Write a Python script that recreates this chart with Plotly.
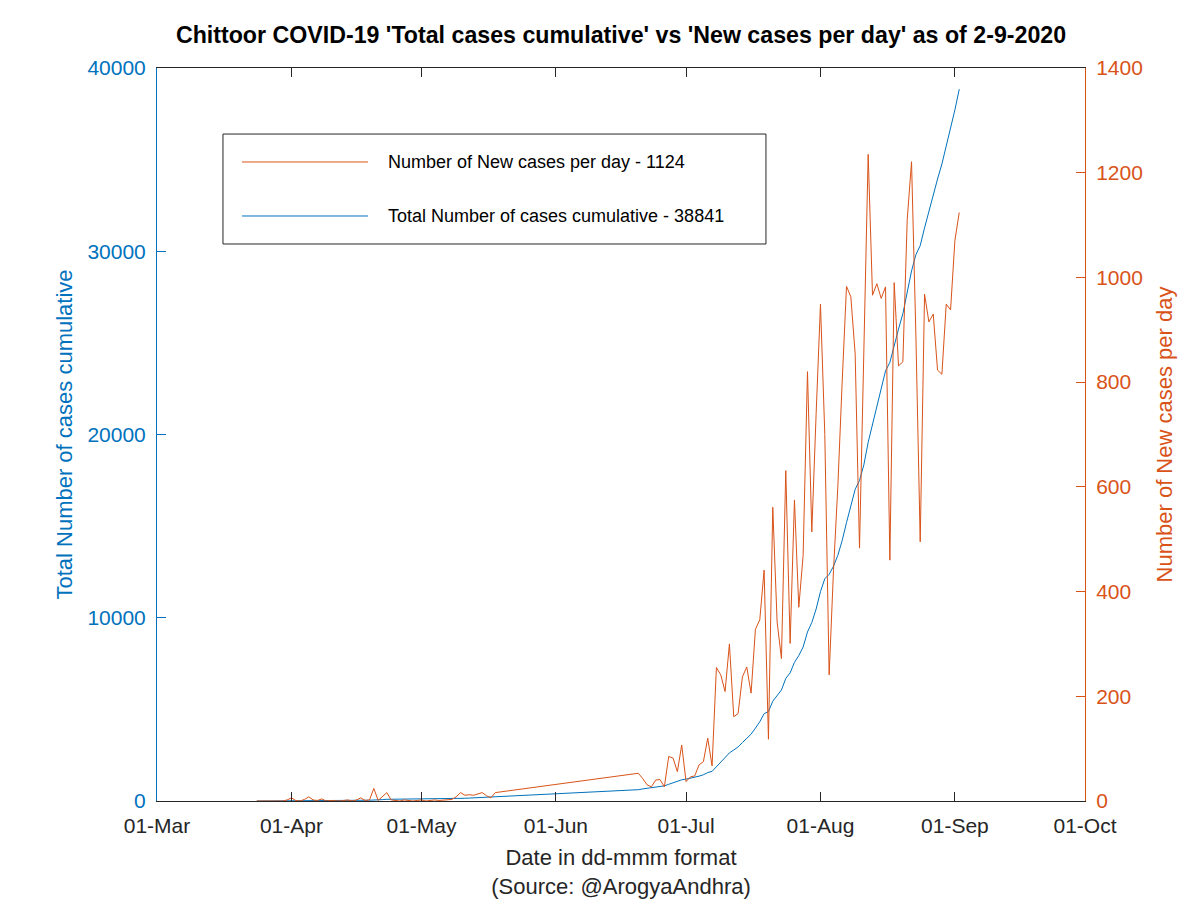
import plotly.graph_objects as go
import pandas as pd

# ---------------- data ----------------
early_dates = pd.date_range("2020-03-24", "2020-05-18")
late_dates = pd.date_range("2020-06-20", "2020-09-02")
dates = [d.strftime("%Y-%m-%d") for d in list(early_dates) + list(late_dates)]

new_early = [0, 0, 0, 1, 0, 0, 0, 2,
             6, 1, 0, 3, 8, 2, 1, 4, 0, 1,
             0, 0, 1, 2, 0, 2, 6, 1, 2, 24,
             1, 8, 16, 2, 1, 0, 2, 1, 0, 1,
             2, 0, 1, 2, 1, 2, 3, 3, 8, 16,
             11, 12, 11, 14, 16, 10, 6, 16]
new_june = [53, 43, 31, 27, 40, 41, 27, 85, 82, 56, 107]
new_july = [37, 46, 48, 69, 75, 120, 67, 255, 241, 209, 300, 161, 167, 237, 256, 206,
            328, 346, 441, 118, 561, 342, 272, 631, 301, 575, 370, 469, 820, 514, 740]
new_aug = [949, 700, 241, 440, 600, 800, 983, 963, 854, 483, 850, 1235, 966, 988, 960, 982,
           460, 990, 831, 839, 1110, 1221, 890, 495, 968, 915, 930, 823, 815, 949, 938]
new_sep = [1071, 1124]

total_early = [0, 0, 0, 1, 1, 1, 1, 3,
               9, 10, 10, 13, 21, 23, 24, 28, 28, 29,
               29, 29, 30, 32, 32, 34, 40, 41, 43, 67,
               68, 76, 92, 94, 95, 95, 97, 98, 98, 99,
               101, 101, 102, 104, 105, 107, 110, 113, 121, 137,
               148, 160, 171, 185, 201, 211, 217, 233]
total_june = [617, 660, 691, 718, 758, 799, 826, 911, 993, 1049, 1156]
total_july = [1193, 1239, 1287, 1356, 1431, 1551, 1618, 1873, 2114, 2323, 2623, 2784, 2951,
              3188, 3444, 3650, 3978, 4324, 4765, 4883, 5444, 5786, 6058, 6689, 6990, 7565,
              7935, 8404, 9224, 9738, 10478]
total_aug = [11427, 12127, 12368, 12808, 13408, 14208, 15191, 16154, 17008, 17491, 18341,
             19576, 20542, 21530, 22490, 23472, 23932, 24922, 25753, 26592, 27702, 28923,
             29813, 30308, 31276, 32191, 33121, 33944, 34759, 35708, 36646]
total_sep = [37717, 38841]

new_cases = new_early + new_june + new_july + new_aug + new_sep
total_cases = total_early + total_june + total_july + total_aug + total_sep

x_ticks = ["2020-03-01", "2020-04-01", "2020-05-01", "2020-06-01",
           "2020-07-01", "2020-08-01", "2020-09-01", "2020-10-01"]
left_ticks = [0, 10000, 20000, 30000, 40000]
right_ticks = [0, 200, 400, 600, 800, 1000, 1200, 1400]

# ---------------- styling ----------------
BLUE = "rgb(0,114,189)"
ORANGE = "rgb(217,83,25)"
DARK = "rgb(38,38,38)"
FONT = "Liberation Sans, Arial, Helvetica, sans-serif"

fig = go.Figure()
fig.add_trace(go.Scatter(x=dates, y=total_cases, mode="lines",
                         line=dict(color=BLUE, width=1),
                         name="Total Number of cases cumulative", yaxis="y",
                         showlegend=False))
fig.add_trace(go.Scatter(x=dates, y=new_cases, mode="lines",
                         line=dict(color=ORANGE, width=1),
                         name="Number of New cases per day", yaxis="y2",
                         showlegend=False))

# manual MATLAB-like legend (long line samples)
lx0, lx1, ly0, ly1 = 0.0711, 0.6562, 0.7599, 0.9099
shapes = [
    dict(type="rect", xref="paper", yref="paper", x0=lx0, x1=lx1, y0=ly0, y1=ly1,
         line=dict(color=DARK, width=1), fillcolor="white", layer="above"),
    dict(type="line", xref="paper", yref="paper", x0=0.0916, x1=0.2274, y0=0.8718, y1=0.8718,
         line=dict(color=ORANGE, width=1), layer="above"),
    dict(type="line", xref="paper", yref="paper", x0=0.0916, x1=0.2274, y0=0.7981, y1=0.7981,
         line=dict(color=BLUE, width=1), layer="above"),
]
annotations = [
    dict(xref="paper", yref="paper", x=0.2468, y=0.8718, xanchor="left", yanchor="middle",
         text=f"Number of New cases per day - {new_cases[-1]}", showarrow=False,
         font=dict(family=FONT, size=18, color="black")),
    dict(xref="paper", yref="paper", x=0.2468, y=0.7981, xanchor="left", yanchor="middle",
         text=f"Total Number of cases cumulative - {total_cases[-1]}", showarrow=False,
         font=dict(family=FONT, size=18, color="black")),
]

fig.update_layout(
    width=1200, height=900,
    margin=dict(l=157, r=115, t=68, b=99, autoexpand=False),
    paper_bgcolor="white", plot_bgcolor="white",
    font=dict(family=FONT, color=DARK),
    title=dict(text="<b>Chittoor COVID-19 'Total cases cumulative' vs 'New cases per day' as of 2-9-2020</b>",
               x=621 / 1200, xanchor="center", y=1 - 35 / 900, yanchor="middle",
               yref="container", font=dict(family=FONT, size=23.2, color="black")),
    xaxis=dict(type="date", range=["2020-03-01", "2020-10-01"], tickvals=x_ticks,
               tickformat="%d-%b", ticks="inside", ticklen=9, tickcolor=DARK,
               showline=True, linecolor=DARK, linewidth=1, mirror="ticks",
               showgrid=False, zeroline=False, ticklabelstandoff=6, automargin=False,
               tickfont=dict(family=FONT, size=21, color=DARK),
               title=dict(text="Date in dd-mmm format<br>(Source: @ArogyaAndhra)",
                          font=dict(family=FONT, size=22, color=DARK), standoff=13)),
    yaxis=dict(range=[0, 40000], tickvals=left_ticks, tickformat="d",
               ticks="inside", ticklen=9, tickcolor=BLUE,
               showline=True, linecolor=BLUE, linewidth=1, automargin=False,
               showgrid=False, zeroline=False, ticklabelstandoff=6,
               tickfont=dict(family=FONT, size=21, color=BLUE),
               title=dict(text="Total Number of cases cumulative",
                          font=dict(family=FONT, size=22, color=BLUE), standoff=8)),
    yaxis2=dict(range=[0, 1400], tickvals=right_ticks, tickformat="d",
                overlaying="y", side="right", anchor="x", automargin=False,
                ticks="inside", ticklen=9, tickcolor=ORANGE,
                showline=True, linecolor=ORANGE, linewidth=1,
                showgrid=False, zeroline=False, ticklabelstandoff=6,
                tickfont=dict(family=FONT, size=21, color=ORANGE),
                title=dict(text="Number of New cases per day",
                           font=dict(family=FONT, size=22, color=ORANGE), standoff=14)),
    shapes=shapes,
    annotations=annotations,
)

fig.write_html("out.html")
